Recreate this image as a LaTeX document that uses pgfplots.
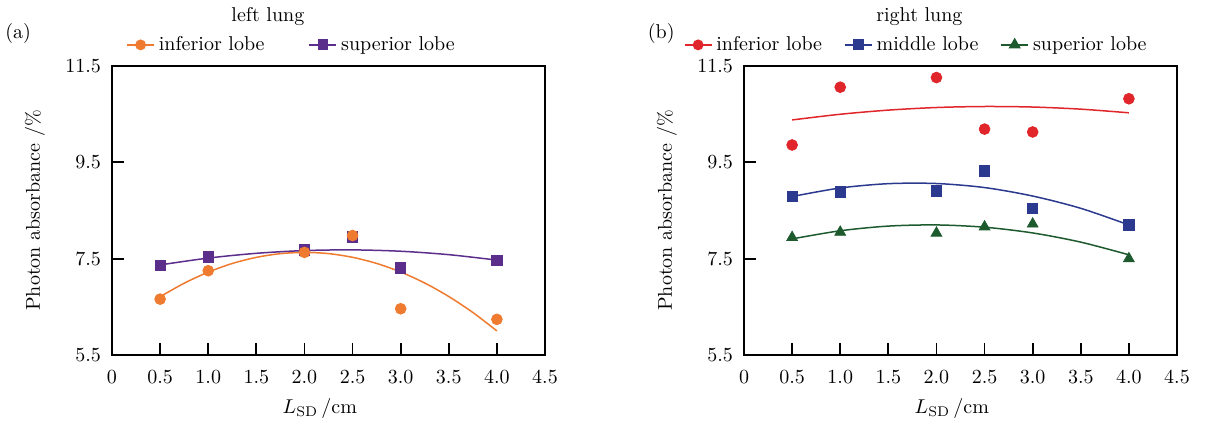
\documentclass[border=0pt]{standalone}
\usepackage{pgfplots}
\pgfplotsset{compat=1.18}
\definecolor{corange}{HTML}{EE7B30}
\definecolor{cpurple}{HTML}{5B2E8C}
\definecolor{cred}{HTML}{E0262A}
\definecolor{cblue}{HTML}{2B3A8F}
\definecolor{cgreen}{HTML}{1D5A2E}
\newcommand{\fs}{\fontsize{10}{12}\selectfont}
\pgfplotsset{
  lungaxis/.style={
    scale only axis, width=216.5pt, height=144.5pt,
    xmin=0, xmax=4.5, ymin=5.5, ymax=11.5,
    xtick={0,0.5,1,1.5,2,2.5,3,3.5,4,4.5},
    xticklabels={0,0.5,1.0,1.5,2.0,2.5,3.0,3.5,4.0,4.5},
    ytick={5.5,7.5,9.5,11.5},
    yticklabels={5.5,7.5,9.5,11.5},
    tick align=inside, xtick pos=left, ytick pos=left,
    major tick length=6pt,
    axis line style={line width=0.9pt},
    every tick/.style={black, line width=0.9pt},
    tick label style={font=\fs},
    xticklabel style={yshift=-4pt},
    yticklabel style={xshift=-2pt},
    label style={font=\fs},
    xlabel={$L_{\mathrm{SD}}$\,/cm},
    xlabel style={at={(rel axis cs:0.48,-0.185)}, anchor=center},
    ylabel={Photon absorbance /\%},
    ylabel style={at={(rel axis cs:-0.178,0.5)}, anchor=center, rotate=0},
    title style={font=\fs, anchor=center},
    legend style={draw=none, fill=none, font=\fs, legend columns=-1, anchor=center},
    legend image code/.code={\draw[mark repeat=2,mark phase=2,#1] plot coordinates {(0pt,0pt) (6.75pt,0pt) (13.5pt,0pt)};},
    clip=false,
  },
  fitline/.style={line width=0.75pt, mark=none, smooth, forget plot},
}
\begin{document}
\begin{tikzpicture}[font=\fs]
\useasboundingbox (-56pt,-33pt) rectangle (554pt,177.5pt);
\begin{axis}[lungaxis,
  title={left lung}, title style={at={(rel axis cs:0.36,1.13)}},
  legend style={at={(rel axis cs:0.417,1.073)}},
  legend style={/tikz/every even column/.append style={column sep=20pt}},
]
\addlegendimage{corange, line width=0.8pt, mark=*, mark size=2.3pt}
\addlegendentry{inferior lobe}
\addlegendimage{cpurple, line width=0.8pt, mark=square*, mark size=2.3pt}
\addlegendentry{superior lobe}
% fitted curves
\addplot[fitline, corange] coordinates {(0.5,6.71) (0.75,6.99) (1.0,7.22) (1.25,7.40) (1.5,7.527) (1.75,7.604) (2.0,7.63) (2.25,7.605) (2.5,7.528) (2.75,7.401) (3.0,7.223) (3.25,6.994) (3.5,6.714) (3.75,6.383) (4.0,6.00)};
\addplot[fitline, cpurple] coordinates {(0.5,7.37) (1.0,7.512) (1.5,7.611) (2.0,7.668) (2.5,7.682) (3.0,7.654) (3.5,7.583) (4.0,7.47)};
% data
\addplot[only marks, mark=square*, mark size=2.6pt, color=cpurple, forget plot] coordinates {(0.5,7.36) (1.0,7.54) (2.0,7.68) (2.5,7.95) (3.0,7.31) (4.0,7.47)};
\addplot[only marks, mark=*, mark size=2.7pt, color=corange, forget plot] coordinates {(0.5,6.66) (1.0,7.25) (2.0,7.63) (2.5,7.98) (3.0,6.46) (4.0,6.24)};
\node[font=\fs] at (rel axis cs:-0.217,1.114) {(a)};
\end{axis}
\begin{axis}[lungaxis, at={(316pt,0pt)},
  title={right lung}, title style={at={(rel axis cs:0.405,1.13)}},
  legend style={at={(rel axis cs:0.40,1.073)}},
  legend style={/tikz/every even column/.append style={column sep=9pt}},
]
\addlegendimage{cred, line width=0.8pt, mark=*, mark size=2.3pt}
\addlegendentry{inferior lobe}
\addlegendimage{cblue, line width=0.8pt, mark=square*, mark size=2.3pt}
\addlegendentry{middle lobe}
\addlegendimage{cgreen, line width=0.8pt, mark=triangle*, mark size=2.8pt}
\addlegendentry{superior lobe}
\addplot[fitline, cred] coordinates {(0.5,10.38) (1.0,10.498) (1.5,10.584) (2.0,10.638) (2.5,10.659) (3.0,10.648) (3.5,10.604) (4.0,10.528)};
\addplot[fitline, cblue] coordinates {(0.5,8.79) (1.0,8.967) (1.5,9.057) (2.0,9.060) (2.5,8.976) (3.0,8.80) (3.5,8.545) (4.0,8.20)};
\addplot[fitline, cgreen] coordinates {(0.5,7.91) (1.0,8.079) (1.5,8.176) (2.0,8.20) (2.5,8.153) (3.0,8.034) (3.5,7.843) (4.0,7.58)};
\addplot[only marks, mark=*, mark size=2.7pt, color=cred, forget plot] coordinates {(0.5,9.86) (1.0,11.06) (2.0,11.26) (2.5,10.19) (3.0,10.13) (4.0,10.82)};
\addplot[only marks, mark=square*, mark size=2.6pt, color=cblue, forget plot] coordinates {(0.5,8.79) (1.0,8.89) (2.0,8.91) (2.5,9.32) (3.0,8.54) (4.0,8.20)};
\addplot[only marks, mark=triangle*, mark size=3.1pt, color=cgreen, forget plot] coordinates {(0.5,7.94) (1.0,8.05) (2.0,8.03) (2.5,8.16) (3.0,8.22) (4.0,7.50)};
\node[font=\fs] at (rel axis cs:-0.191,1.114) {(b)};
\end{axis}
\end{tikzpicture}
\end{document}
